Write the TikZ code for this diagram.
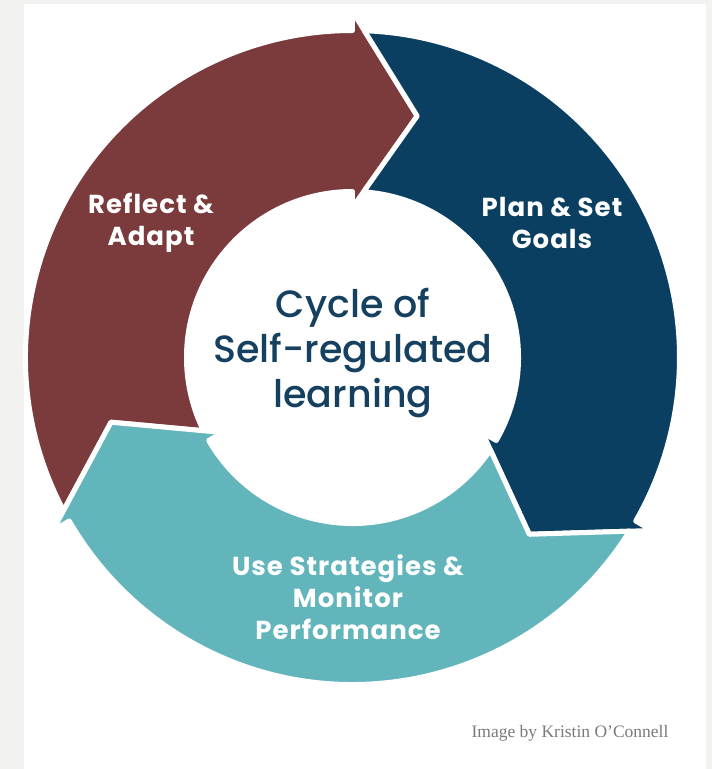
\documentclass[tikz,border=0pt]{standalone}
\usepackage{fontspec}
\setmainfont{Liberation Serif}
\newfontfamily\poppins{Poppins}[LetterSpace=4]
\newfontfamily\poppinsmed{Poppins Medium}
\usetikzlibrary{positioning}
\definecolor{reflectred}{HTML}{7B3B3C}
\definecolor{planblue}{HTML}{0B3F61}
\definecolor{useteal}{HTML}{63B5BC}
\definecolor{titleblue}{HTML}{15405F}
\definecolor{pagegray}{HTML}{F2F2F1}
\definecolor{creditgray}{HTML}{7A7A7A}

\begin{document}
\begin{tikzpicture}
[x=1pt,y=1pt,
      band/.style={draw=white,line width=5pt,line join=round},
      steplabel/.style={text=white,align=center,inner sep=0pt,
      font=\poppins\bfseries\fontsize{26}{32}\selectfont},
      cycletitle/.style={text=titleblue,align=center,inner sep=0pt,
      font=\poppinsmed\fontsize{38}{45}\selectfont},
      credit/.style={text=creditgray,inner sep=0pt,
      font=\fontsize{17.5}{19}\selectfont}]
 % page and white panel
 \useasboundingbox (-352.5,-411.5) rectangle (359.5,357.5);
 \fill[pagegray] (-352.5,-411.5) rectangle (359.5,357.5);
 \fill[white] (-328.5,-411.5) rectangle (353.5,353.5);
 % the three arrows: base angle, colour
 \foreach \b/\col in {90/reflectred,-30/planblue,210/useteal}{
  \pgfmathsetmacro{\p}{\b+120}
  \filldraw[band,fill=\col] ({\p-2.08}:327)
   arc[start angle=\p-2.08,end angle=\b,radius=327]
   -- (\b:346) -- ({\b-15}:250) -- (\b:150) -- (\b:166)
   arc[start angle=\b,end angle=\p-3.82,radius=166]
   -- ({\p-15}:250) -- cycle;
 }
 \node[steplabel] (reflect) at (-201.5,135) {Reflect \&\\Adapt};
 \node[steplabel] (plan) at (199.5,135) {Plan \& Set\\Goals};
 \node[steplabel] (use) at (-4.5,-239.5) {Use Strategies \&\\Monitor\\Performance};
 \node[cycletitle] (title) at (0.5,4.5) {Cycle of\\Self-regulated\\learning};
 \node[credit] (kristin) at (217.5,-375.5) {Image by Kristin O’Connell};
\end{tikzpicture}
\end{document}
